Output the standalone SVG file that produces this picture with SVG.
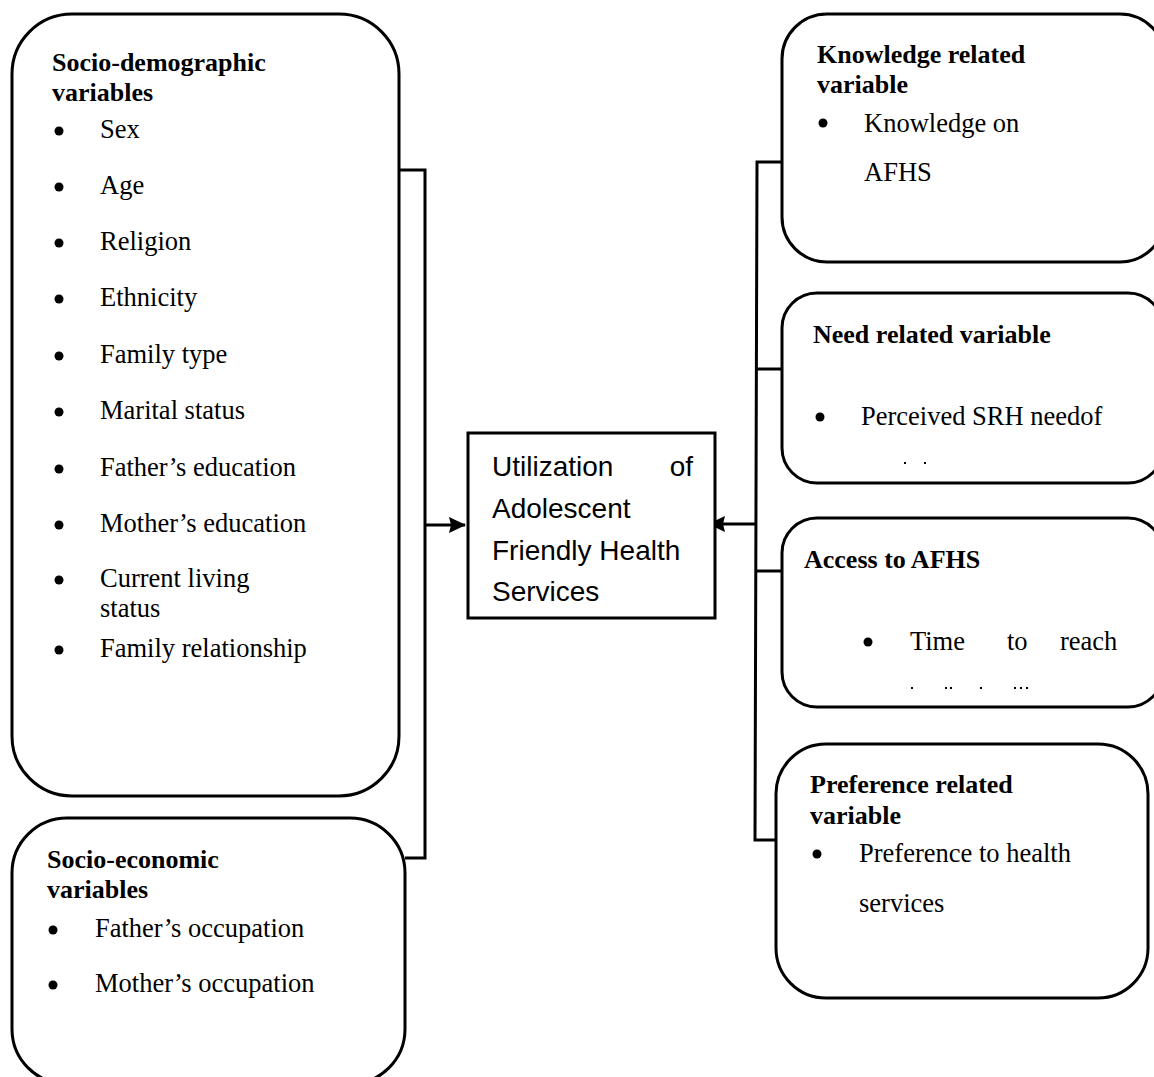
<svg xmlns="http://www.w3.org/2000/svg" width="1154" height="1077" viewBox="0 0 1154 1077">
<style>
.box{fill:#fff;stroke:#000;stroke-width:3}
.ln{fill:none;stroke:#000;stroke-width:3}
.h{font-family:"Liberation Serif","Times New Roman",serif;font-weight:bold;font-size:26px;fill:#000}
.t{font-family:"Liberation Serif","Times New Roman",serif;font-size:26.5px;fill:#000}
.c{font-family:"Liberation Sans",Arial,sans-serif;font-size:28px;fill:#000}
.b{fill:#000}
</style>
<defs>
<marker id="ah" viewBox="0 0 17 16" refX="16" refY="8" markerWidth="17" markerHeight="16" orient="auto" markerUnits="userSpaceOnUse">
<path d="M0,0 L17,8 L0,16 L2,8 z" fill="#000"/>
</marker>
</defs>
<rect width="1154" height="1077" fill="#fff"/>
<g id="connectors">
<polyline class="ln" points="399,170 425,170 425,858 405,858"/>
<line class="ln" x1="425" y1="525" x2="465" y2="525" marker-end="url(#ah)"/>
<polyline class="ln" points="782,162 757,162 755,840 777,840"/>
<line class="ln" x1="757" y1="369" x2="782" y2="369"/>
<line class="ln" x1="756" y1="571" x2="782" y2="571"/>
<line class="ln" x1="756" y1="524" x2="709" y2="524" marker-end="url(#ah)"/>
</g>
<g id="socio-demographic">
<rect class="box" x="12" y="14" width="387" height="782" rx="60" ry="60"/>
<text class="h" x="52" y="71">Socio-demographic</text>
<text class="h" x="52" y="101">variables</text>
<circle class="b" cx="59" cy="131" r="4.5"/><text class="t" x="100" y="138">Sex</text>
<circle class="b" cx="59" cy="187" r="4.5"/><text class="t" x="100" y="194">Age</text>
<circle class="b" cx="59" cy="243" r="4.5"/><text class="t" x="100" y="250">Religion</text>
<circle class="b" cx="59" cy="299" r="4.5"/><text class="t" x="100" y="306">Ethnicity</text>
<circle class="b" cx="59" cy="356" r="4.5"/><text class="t" x="100" y="363">Family type</text>
<circle class="b" cx="59" cy="412" r="4.5"/><text class="t" x="100" y="419">Marital status</text>
<circle class="b" cx="59" cy="469" r="4.5"/><text class="t" x="100" y="476">Father’s education</text>
<circle class="b" cx="59" cy="525" r="4.5"/><text class="t" x="100" y="532">Mother’s education</text>
<circle class="b" cx="59" cy="580" r="4.5"/><text class="t" x="100" y="587">Current living</text>
<text class="t" x="100" y="617">status</text>
<circle class="b" cx="59" cy="650" r="4.5"/><text class="t" x="100" y="657">Family relationship</text>
</g>
<g id="socio-economic">
<rect class="box" x="12" y="818" width="393" height="266" rx="55" ry="55"/>
<text class="h" x="47" y="868">Socio-economic</text>
<text class="h" x="47" y="898">variables</text>
<circle class="b" cx="53" cy="930" r="4.5"/><text class="t" x="95" y="937">Father’s occupation</text>
<circle class="b" cx="53" cy="985" r="4.5"/><text class="t" x="95" y="992">Mother’s occupation</text>
</g>
<g id="utilization">
<rect class="box" x="468" y="433" width="247" height="185"/>
<text class="c" x="492" y="476">Utilization</text>
<text class="c" x="693" y="476" text-anchor="end">of</text>
<text class="c" x="492" y="518">Adolescent</text>
<text class="c" x="492" y="560">Friendly Health</text>
<text class="c" x="492" y="601">Services</text>
</g>
<g id="knowledge">
<rect class="box" x="782" y="14" width="383" height="248" rx="45" ry="45"/>
<text class="h" x="817" y="63">Knowledge related</text>
<text class="h" x="817" y="93">variable</text>
<circle class="b" cx="823" cy="123" r="4.5"/><text class="t" x="864" y="132">Knowledge on</text>
<text class="t" x="864" y="181">AFHS</text>
</g>
<g id="need">
<rect class="box" x="782" y="293" width="381" height="190" rx="35" ry="35"/>
<text class="h" x="813" y="343">Need related variable</text>
<circle class="b" cx="820" cy="417" r="4.5"/><text class="t" x="861" y="425">Perceived SRH needof</text>
<rect class="b" x="904" y="462" width="2" height="2"/><rect class="b" x="924" y="462" width="2" height="2"/>
</g>
<g id="access">
<rect class="box" x="782" y="518" width="381" height="189" rx="35" ry="35"/>
<text class="h" x="804" y="568">Access to AFHS</text>
<circle class="b" cx="868" cy="642" r="4.5"/>
<text class="t" x="910" y="650">Time</text>
<text class="t" x="1007" y="650">to</text>
<text class="t" x="1060" y="650">reach</text>
<rect class="b" x="911" y="687" width="2" height="2"/><rect class="b" x="945" y="687" width="2" height="2"/><rect class="b" x="950" y="687" width="2" height="2"/><rect class="b" x="980" y="687" width="2" height="2"/><rect class="b" x="1014" y="687" width="2" height="2"/><rect class="b" x="1020" y="687" width="2" height="2"/><rect class="b" x="1026" y="687" width="2" height="2"/>
</g>
<g id="preference">
<rect class="box" x="776" y="744" width="372" height="254" rx="50" ry="50"/>
<text class="h" x="810" y="793">Preference related</text>
<text class="h" x="810" y="824">variable</text>
<circle class="b" cx="817" cy="854" r="4.5"/><text class="t" x="859" y="862">Preference to health</text>
<text class="t" x="859" y="912">services</text>
</g>
</svg>
